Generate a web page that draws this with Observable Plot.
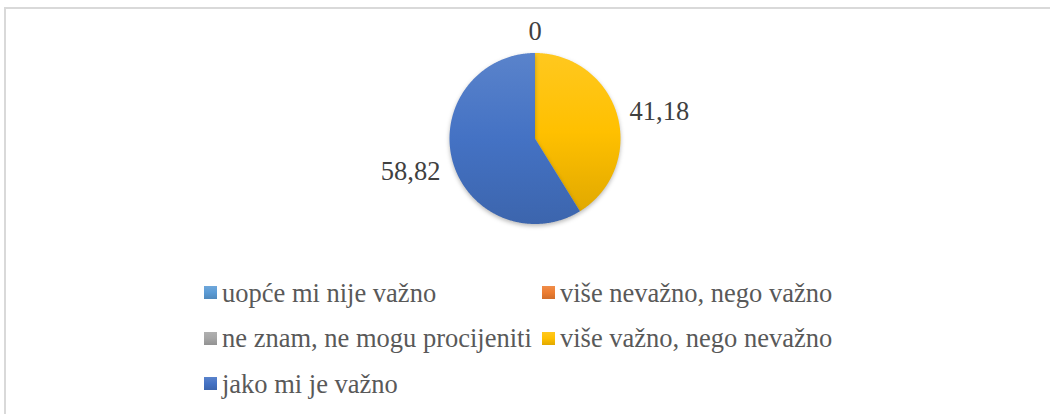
<!DOCTYPE html>
<html><head><meta charset="utf-8">
<script src="https://cdn.jsdelivr.net/npm/d3@7"></script>
<script src="https://cdn.jsdelivr.net/npm/@observablehq/plot@0.6"></script>
<style>
body{margin:0;background:#fff;}
#wrap{position:relative;width:1050px;height:414px;overflow:hidden;font-family:"Liberation Serif","Tinos","DejaVu Serif","Noto Serif",serif;background:#fff;}
#frame{position:absolute;left:4px;top:7px;width:1200px;height:600px;border:2px solid #d9d9d9;box-sizing:border-box;}
#chart{position:absolute;left:0;top:0;}
#chart svg g[aria-label="line"]{filter:drop-shadow(0px 2px 2px rgba(0,0,0,0.28));}
#chart svg text{font-family:"Liberation Serif","Tinos","DejaVu Serif","Noto Serif",serif;}
#legend{position:absolute;left:204px;top:270px;display:grid;grid-template-columns:338px auto;grid-auto-rows:45.5px;align-items:center;}
.leg{display:flex;align-items:center;font-size:26.5px;color:#595959;white-space:nowrap;line-height:1;font-family:"Liberation Serif","Tinos","DejaVu Serif","Noto Serif",serif;}
.sw{width:13px;height:13px;margin-right:5px;flex:none;}
</style></head><body>
<div id="wrap"><div id="frame"></div><div id="chart"></div><div id="legend"></div></div>
<script>
// ---- data ----
const categories = ["uopće mi nije važno", "više nevažno, nego važno", "ne znam, ne mogu procijeniti", "više važno, nego nevažno", "jako mi je važno"];
const values = [0, 0, 0, 41.18, 58.82];
const colors = ["#5B9BD5", "#ED7D31", "#A5A5A5", "#FFC000", "#4472C4"];

// ---- layout ----
const W = 1050, H = 260, cx = 534.5, cy = 138, R = 85.5;
const FONT = "Liberation Serif, Tinos, DejaVu Serif, Noto Serif, serif";
const fmt = d3.formatLocale({decimal: ",", thousands: ".", grouping: [3], currency: ["", " €"]}).format(".2~f");
const topC = c => d3.interpolateRgb(c, "#ffffff")(0.12);
const botC = c => d3.rgb(c).darker(0.35).formatHex();

const arcs = d3.pie().sort(null).value(d => d)(values);

// slice polygons (unit-circle coordinates, y up)
const sliceMarks = [];
arcs.forEach((a, i) => {
  if (a.endAngle - a.startAngle <= 0) return;
  const n = Math.max(2, Math.ceil((a.endAngle - a.startAngle) / (Math.PI / 360)));
  const pts = [{x: 0, y: 0}];
  for (let k = 0; k <= n; k++) {
    const t = a.startAngle + (a.endAngle - a.startAngle) * k / n;
    pts.push({x: Math.sin(t), y: Math.cos(t)});
  }
  pts.push({x: 0, y: 0});
  sliceMarks.push(Plot.line(pts, {x: "x", y: "y", fill: `url(#grad${i})`, stroke: "none", curve: "linear"}));
});

// labels
const seen = new Set();
const labelMarks = [];
arcs.forEach((a, i) => {
  const m = (a.startAngle + a.endAngle) / 2;
  const s = Math.sin(m), c = Math.cos(m);
  const key = m.toFixed(4);
  if (seen.has(key)) return;
  seen.add(key);
  const kR = 1.15;
  const textAnchor = s > 0.3 ? "start" : s < -0.3 ? "end" : "middle";
  const lineAnchor = c > 0.9 ? "bottom" : c < -0.9 ? "top" : "middle";
  labelMarks.push(Plot.text([{x: s * kR, y: c * kR, t: fmt(values[i])}], {
    x: "x", y: "y", text: "t", textAnchor, lineAnchor, dy: c < 0 ? 6 : 0,
    fontSize: 26.5, fill: "#404040", fontFamily: FONT
  }));
});

const svg = Plot.plot({
  width: W, height: H,
  marginTop: 0, marginRight: 0, marginBottom: 0, marginLeft: 0,
  x: {domain: [-cx / R, (W - cx) / R], axis: null},
  y: {domain: [-(H - cy) / R, cy / R], axis: null},
  style: {background: "transparent", overflow: "visible", fontFamily: FONT},
  marks: [...sliceMarks, ...labelMarks]
});

const defs = d3.select(svg).insert("defs", ":first-child");
colors.forEach((c, i) => {
  const g = defs.append("linearGradient").attr("id", `grad${i}`)
    .attr("x1", 0).attr("y1", 0).attr("x2", 0).attr("y2", 1);
  g.append("stop").attr("offset", "0%").attr("stop-color", topC(c));
  g.append("stop").attr("offset", "50%").attr("stop-color", c);
  g.append("stop").attr("offset", "100%").attr("stop-color", botC(c));
});
document.getElementById("chart").appendChild(svg);

// legend
const leg = d3.select("#legend");
categories.forEach((name, i) => {
  const item = leg.append("div").attr("class", "leg");
  item.append("span").attr("class", "sw")
    .style("background", `linear-gradient(${topC(colors[i])}, ${colors[i]}, ${botC(colors[i])})`);
  item.append("span").text(name);
});
</script>
</body></html>
